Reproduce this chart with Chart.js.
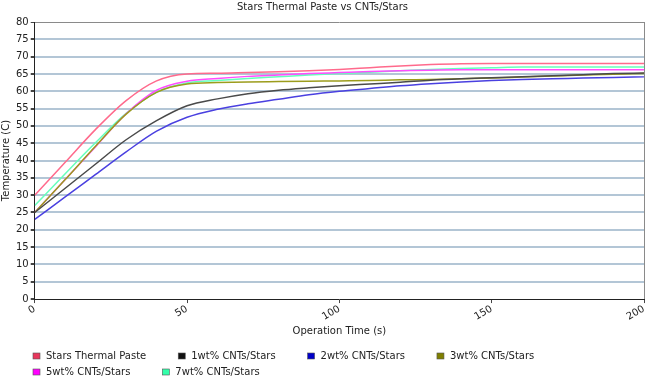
<!DOCTYPE html>
<html>
<head>
<meta charset="utf-8">
<script src="https://cdn.jsdelivr.net/npm/chart.js@4"></script>
<style>
  body { margin: 0; background: #fff; }
  #wrap { width: 650px; height: 376px; position: relative; }
</style>
</head>
<body>
<div id="wrap"><canvas id="tempChart"></canvas></div>
<script>
// operation time in seconds
var times = [0, 10, 20, 30, 40, 50, 60, 70, 80, 90, 100, 110, 120, 130, 140, 150, 160, 170, 180, 190, 200];

// temperatures (C)
var starsPaste = [30, 39.5, 49, 57.3, 63, 65, 65.2, 65.4, 65.6, 65.9, 66.3, 66.8, 67.3, 67.7, 67.95, 68, 68, 68, 68, 68, 68];
var cnt1wt = [25, 32, 39, 46, 51.5, 55.8, 57.8, 59.3, 60.3, 61, 61.6, 62.1, 62.6, 63.2, 63.6, 63.9, 64.2, 64.5, 64.8, 65.1, 65.3];
var cnt2wt = [23, 29.5, 36, 42.5, 48.5, 52.5, 54.8, 56.4, 57.7, 59, 60, 60.8, 61.6, 62.2, 62.7, 63.1, 63.4, 63.6, 63.8, 64, 64.2];
var cnt3wt = [25, 34.5, 44.2, 53.4, 59.7, 62.1, 62.5, 62.7, 62.8, 62.9, 63, 63.1, 63.3, 63.4, 63.6, 63.8, 64.1, 64.4, 64.7, 64.9, 65.1];
var cnt5wt = [25, 34.5, 44, 53.5, 60.3, 62.9, 63.7, 64.3, 64.7, 65.1, 65.4, 65.7, 65.9, 66.1, 66.2, 66.2, 66.2, 66.2, 66.2, 66.2, 66.2];
var cnt7wt = [27, 36.2, 45.2, 53.6, 59.8, 62.4, 63.1, 63.7, 64.2, 64.7, 65.1, 65.5, 65.9, 66.3, 66.6, 66.8, 67, 67, 67, 67, 67];

var seriesNames = ["Stars Thermal Paste", "1wt% CNTs/Stars", "2wt% CNTs/Stars", "3wt% CNTs/Stars", "5wt% CNTs/Stars", "7wt% CNTs/Stars"];
var seriesData = [starsPaste, cnt1wt, cnt2wt, cnt3wt, cnt5wt, cnt7wt];
var lineColors = ['#ff6a8c', '#4a4a4a', '#4a40e0', '#9c9c1c', '#ff4cff', '#66ffbb'];
var boxColors = ['#e8375c', '#111111', '#0000c8', '#7f7f00', '#ff00ff', '#33ffaa'];

var FONT = 'DejaVu Sans';
Chart.defaults.font.family = FONT;
Chart.defaults.font.size = 10;
Chart.defaults.color = '#222';

var datasets = seriesData.map(function (vals, i) {
    return {
        label: seriesNames[i],
        data: vals.map(function (v, j) { return { x: times[j], y: v }; }),
        borderColor: lineColors[i],
        backgroundColor: boxColors[i],
        borderWidth: 1.5,
        pointRadius: 0,
        fill: false,
        cubicInterpolationMode: 'monotone'
    };
});

// legend drawn by hand so the spacing matches the original
var bottomLegend = {
    id: 'bottomLegend',
    afterDraw: function (chart) {
        var ctx = chart.ctx;
        ctx.save();
        ctx.font = '10px "' + FONT + '"';
        ctx.textBaseline = 'middle';
        var x = 33, y = 356;
        chart.data.datasets.forEach(function (ds, i) {
            var w = 13 + ctx.measureText(ds.label).width;
            if (i > 0 && x + w > 640) { x = 33; y += 16; }
            ctx.fillStyle = ds.backgroundColor;
            ctx.fillRect(x, y - 3, 7, 6);
            ctx.strokeStyle = '#555';
            ctx.lineWidth = 0.6;
            ctx.strokeRect(x, y - 3, 7, 6);
            ctx.fillStyle = '#222';
            ctx.fillText(ds.label, x + 13, y);
            x += w + 32;
        });
        ctx.restore();
    }
};

var gridBlue = '#b3c6d6';

var config = {
    type: 'line',
    data: { datasets: datasets },
    options: {
        responsive: true,
        maintainAspectRatio: false,
        animation: false,
        layout: { padding: { left: 0, right: 5, top: 0, bottom: 39 } },
        plugins: {
            legend: { display: false },
            tooltip: { enabled: false },
            title: {
                display: true,
                text: 'Stars Thermal Paste vs CNTs/Stars',
                font: { size: 10, weight: 'normal' },
                color: '#222',
                padding: { top: 1, bottom: 9 }
            }
        },
        scales: {
            x: {
                type: 'linear',
                min: 0,
                max: 200,
                ticks: { stepSize: 50, minRotation: 30, maxRotation: 30, padding: 0, color: '#222' },
                grid: {
                    color: function (c) { return c.tick && c.tick.value === 200 ? '#8a8a8a' : 'rgba(0,0,0,0)'; },
                    lineWidth: 1,
                    drawTicks: true,
                    tickLength: 4,
                    tickColor: '#444'
                },
                border: { color: '#222', width: 1 },
                title: { display: true, text: 'Operation Time (s)', padding: { top: 2, bottom: 0 }, color: '#222' }
            },
            y: {
                min: 0,
                max: 80,
                ticks: { stepSize: 5, padding: 2, color: '#222' },
                grid: {
                    color: function (c) {
                        if (c.tick.value === 80) return '#8a8a8a';
                        if (c.tick.value === 0) return 'rgba(0,0,0,0)';
                        return gridBlue;
                    },
                    lineWidth: function (c) { return c.tick.value === 80 ? 1 : 2; },
                    tickLength: 4,
                    tickColor: '#444'
                },
                border: { color: '#222', width: 1 },
                title: { display: true, text: 'Temperature (C)', padding: { top: 0, bottom: 2 }, color: '#222' }
            }
        }
    },
    plugins: [bottomLegend]
};

var tempChart = new Chart(document.getElementById('tempChart'), config);
</script>
</body>
</html>
